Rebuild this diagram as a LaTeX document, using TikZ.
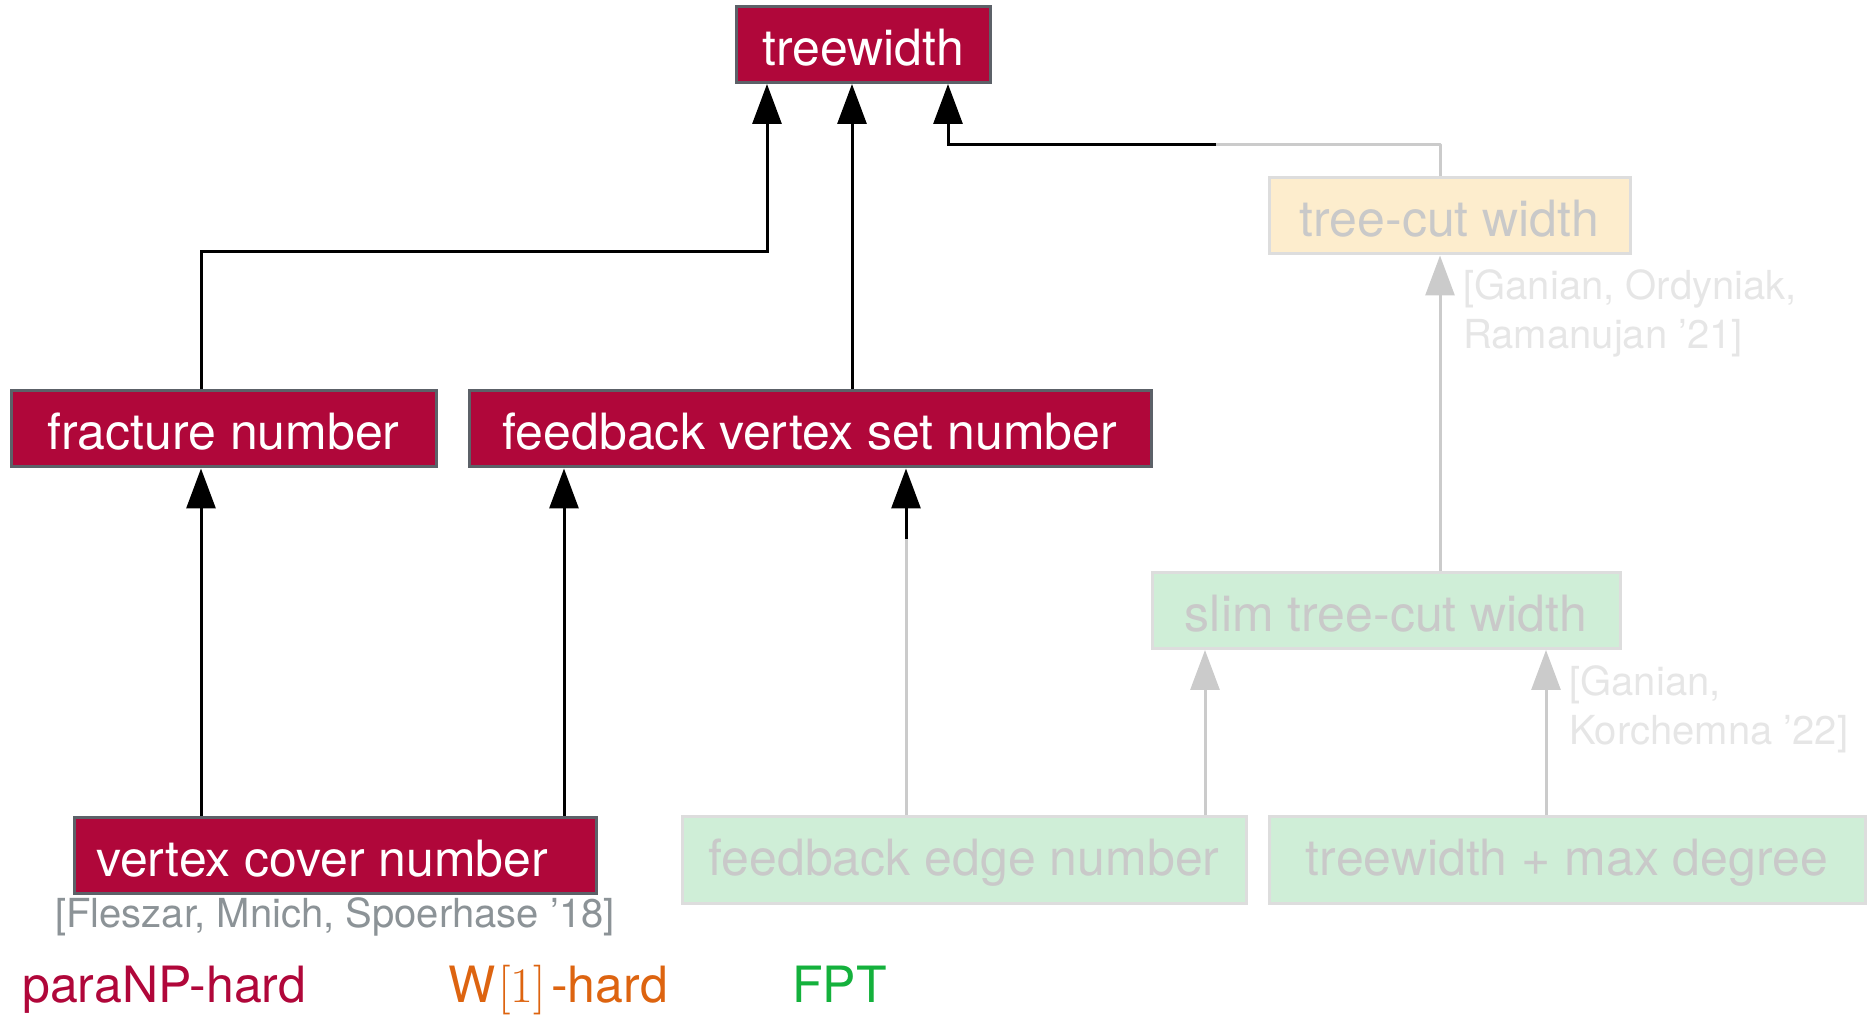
\documentclass[tikz,border=0pt]{standalone}
\usepackage{fontspec}
\setmainfont{TeX Gyre Heros}
\usetikzlibrary{arrows.meta,calc}

\definecolor{hardred}{HTML}{B0073A}
\definecolor{hardedge}{HTML}{5C6168}
\definecolor{fptfill}{HTML}{CFEED7}
\definecolor{wfill}{HTML}{FDEDCD}
\definecolor{softedge}{HTML}{DDDDDD}
\definecolor{softtext}{HTML}{C9C9C9}
\definecolor{citelight}{HTML}{E6E6E6}
\definecolor{citedark}{HTML}{8C9397}
\definecolor{fptgreen}{HTML}{14B13C}
\definecolor{worange}{HTML}{DD6410}
\definecolor{softline}{HTML}{CBCBCB}

\begin{document}
\begin{tikzpicture}[x=0.5pt,y=-0.5pt,
  box/.style={draw, line width=1.5pt, inner ysep=8.5pt, inner xsep=0pt,
    text height=21pt, text depth=0pt,
    font=\fontsize{25}{30}\selectfont},
  deep/.style={text depth=5.5pt},
  hardbox/.style={box, fill=hardred, draw=hardedge, text=white},
  fptbox/.style={box, fill=fptfill, draw=softedge, text=softtext},
  wbox/.style={box, fill=wfill, draw=softedge, text=softtext},
  arr/.style={line width=1.5pt, -{Triangle[length=20pt,width=14.5pt]}},
  garr/.style={line width=1.5pt, draw=softline, line join=round,
    -{Triangle[length=20pt,width=14.5pt]}},
  gline/.style={line width=1.5pt, draw=softline, line join=round},
  cite/.style={anchor=base west, inner sep=0pt, align=left,
    font=\fontsize{20}{24.5}\selectfont},
  legend/.style={anchor=base west, inner sep=0pt,
    font=\fontsize{25}{30}\selectfont},
]
\useasboundingbox (0,0) rectangle (1870,1015);

% parameter boxes
\node[hardbox, minimum width=127pt]   (tw)   at (863,44.5)  {treewidth};
\node[hardbox, minimum width=212.5pt] (fn)   at (223.5,429) {fracture number};
\node[hardbox, minimum width=341pt]   (fvs)  at (810,429)   {feedback vertex set number};
\node[hardbox, inner xsep=11pt]       (vc)   at (335,855.5)
  {\makebox[239pt][l]{vertex cover number}};
\node[fptbox, deep, minimum width=282pt] (fen) at (964,860)  {feedback edge number};
\node[fptbox, deep, minimum width=298pt] (twd) at (1567,860) {treewidth + max degree};
\node[fptbox,  minimum width=234pt]   (stcw) at (1386,610.5){slim tree-cut width};
\node[wbox,    minimum width=180.5pt] (tcw)  at (1449.5,216){tree-cut width};

% references (anchored at the baseline of their last line)
\node[cite, text=citedark, anchor=base] (refvc) at (335,928)
  {[Fleszar, Mnich, Spoerhase ’18]};
\node[cite, text=citelight] (reftcw) at (1463,349)
  {[Ganian, Ordyniak,\\Ramanujan ’21]};
\node[cite, text=citelight] (refstcw) at (1569,745)
  {[Ganian,\\Korchemna ’22]};

% legend
\node[legend, text=hardred]  (lgpara) at (22,1002)  {paraNP-hard};
\node[legend, text=worange]  (lgw)    at (448,1002) {W\kern1.5pt$[1]$\kern2.5pt-hard};
\node[legend, text=fptgreen] (lgfpt)  at (792,1002) {FPT};

% columns and rows used by the connectors
\coordinate (c1) at (201,0);
\coordinate (c2) at (767,0);
\coordinate (c3) at (852,0);
\coordinate (c4) at (948,0);
\coordinate (c5) at (564,0);
\coordinate (c6) at (906,0);
\coordinate (c7) at (1205,0);
\coordinate (c8) at (1546,0);
\coordinate (c9) at (1440,0);
\coordinate (cb) at (1216,0);
\coordinate (rowfn) at (0,252);
\coordinate (rowtcw) at (0,145);
\coordinate (rowsplit) at (0,539);

% black connectors
\draw[arr] (c1 |- vc.north) -- (c1 |- fn.south);
\draw[arr] (c5 |- vc.north) -- (c5 |- fvs.south);
\draw[arr] (c1 |- fn.north) -- (c1 |- rowfn) -- (c2 |- rowfn) -- (c2 |- tw.south);
\draw[arr] (c3 |- fvs.north) -- (c3 |- tw.south);

% feedback edge number -> feedback vertex set number
\draw[gline] (c6 |- fen.north) -- (c6 |- rowsplit);
\draw[arr] (c6 |- rowsplit) -- (c6 |- fvs.south);

% grey connectors
\draw[garr] (c7 |- fen.north) -- (c7 |- stcw.south);
\draw[garr] (c8 |- twd.north) -- (c8 |- stcw.south);
\draw[garr] (c9 |- stcw.north) -- (c9 |- tcw.south);

% tree-cut width -> treewidth
\draw[gline] (c9 |- tcw.north) -- (c9 |- rowtcw) -- (cb |- rowtcw);
\draw[arr] (cb |- rowtcw) -- (c4 |- rowtcw) -- (c4 |- tw.south);
\end{tikzpicture}
\end{document}
